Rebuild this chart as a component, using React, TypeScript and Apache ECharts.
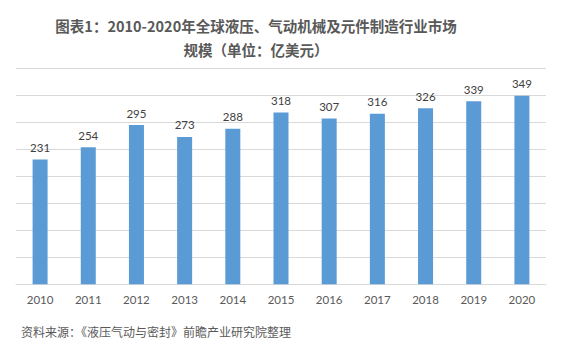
import React, { useEffect, useRef } from "react";
import * as echarts from "echarts";

const years = ["2010", "2011", "2012", "2013", "2014", "2015", "2016", "2017", "2018", "2019", "2020"];
const values = [231, 254, 295, 273, 288, 318, 307, 316, 326, 339, 349];
const titleText = "图表1：2010-2020年全球液压、气动机械及元件制造行业市场\n规模（单位：亿美元）";
const sourceText = "资料来源：《液压气动与密封》前瞻产业研究院整理";

export default function App() {
  const ref = useRef<HTMLDivElement>(null);
  useEffect(() => {
    const chart = echarts.init(ref.current!, null, { renderer: "svg" });
    chart.setOption({
      animation: false,
      backgroundColor: "#ffffff",
      grid: { left: 16, right: 15, top: 68.3, bottom: 71.7, containLabel: false },
      xAxis: {
        type: "category",
        data: years,
        axisLine: { show: true, lineStyle: { color: "#d9d9d9", width: 1 } },
        axisTick: { show: false },
        axisLabel: {
          color: "#595959",
          fontSize: 11.5,
          fontFamily: "Lato, 'Noto Sans', sans-serif",
          margin: 9,
        },
      },
      yAxis: {
        type: "value",
        min: 0,
        max: 400,
        interval: 50,
        axisLabel: { show: false },
        axisLine: { show: false },
        axisTick: { show: false },
        splitLine: { lineStyle: { color: "#d9d9d9", width: 1 } },
      },
      series: [
        {
          type: "bar",
          data: values,
          barWidth: 15,
          itemStyle: { color: "#5b9bd5" },
          label: {
            show: true,
            position: "top",
            distance: 6,
            color: "#404040",
            fontSize: 11.5,
            fontFamily: "Lato, 'Noto Sans', sans-serif",
          },
        },
      ],
      graphic: [
        {
          type: "text",
          x: 256,
          y: 13,
          style: {
            text: titleText,
            textAlign: "center",
            fill: "#595959",
            fontSize: 14.5,
            fontWeight: "bold",
            lineHeight: 24,
            fontFamily: "'Noto Sans CJK SC', sans-serif",
          },
        },
        {
          type: "text",
          left: 21,
          top: 325,
          style: {
            text: sourceText,
            fill: "#595959",
            fontSize: 12,
            fontFamily: "'Noto Sans CJK SC', sans-serif",
          },
        },
      ],
    });
    return () => chart.dispose();
  }, []);
  return <div ref={ref} style={{ width: 561, height: 356, position: "absolute", left: 0, top: 0 }} />;
}
